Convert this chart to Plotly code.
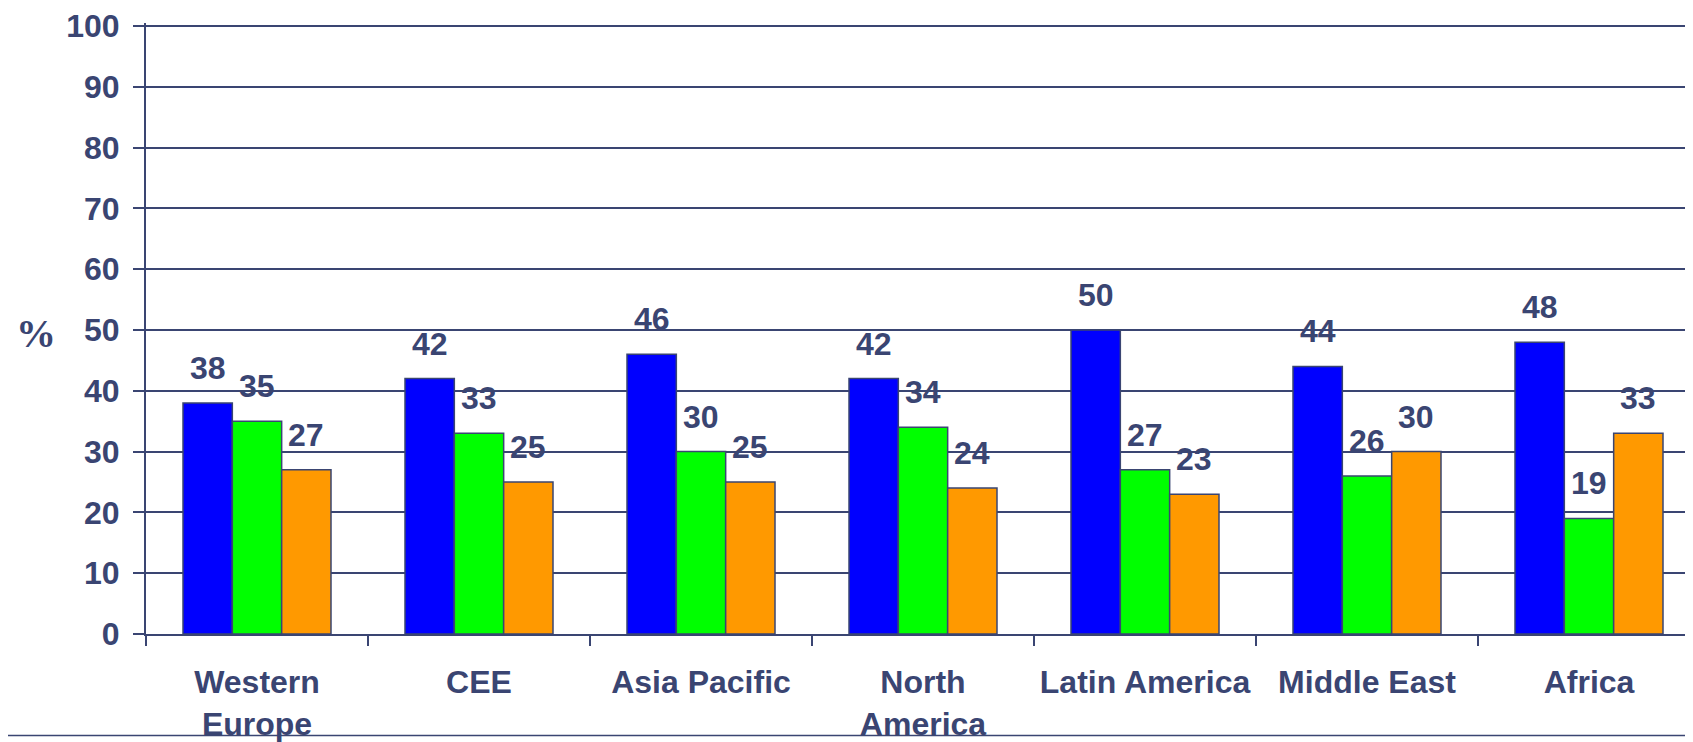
import plotly.graph_objects as go

categories = ["Western<br>Europe", "CEE", "Asia Pacific", "North<br>America",
              "Latin America", "Middle East", "Africa"]
series_blue = [38, 42, 46, 42, 50, 44, 48]
series_green = [35, 33, 30, 34, 27, 26, 19]
series_orange = [27, 25, 25, 24, 23, 30, 33]
y_ticks = [0, 10, 20, 30, 40, 50, 60, 70, 80, 90, 100]

NAVY = "#3a4572"
colors = ["#0000ff", "#00ff00", "#ff9900"]
series = [series_blue, series_green, series_orange]

W, H = 1685, 734
L, T, B, R = 138, 10, 104, 0
PW, PH = W - L - R, H - T - B
UNIT = 6.17  # px per y unit
y_top = PH / UNIT

fig = go.Figure()
for vals, col in zip(series, colors):
    fig.add_trace(go.Bar(
        x=categories, y=vals,
        marker=dict(color=col, line=dict(color=NAVY, width=1.5)),
        showlegend=False,
    ))

# data labels
offsets = [-1, 0, 1]
bar_w = (1 - 1/3) / 3
for vals, off in zip(series, offsets):
    for i, v in enumerate(vals):
        fig.add_annotation(
            x=i + off * bar_w, y=v, xref="x", yref="y",
            text=f"<b>{v}</b>", showarrow=False,
            yanchor="middle", yshift=35,
            font=dict(family="Liberation Sans, Arial", size=32, color=NAVY),
        )

fig.add_annotation(
    x=(28 - L) / PW, y=(T + PH - 325) / PH, xref="paper", yref="paper",
    text="<b>%</b>", showarrow=False, xanchor="center", yanchor="middle",
    font=dict(family="Liberation Serif, Times New Roman", size=40, color=NAVY),
)

yb = (T + PH - 733) / PH
fig.add_shape(type="line", xref="paper", yref="paper",
              x0=-L / PW, x1=1, y0=yb, y1=yb,
              line=dict(color=NAVY, width=1.5))

fig.update_layout(
    width=W, height=H,
    margin=dict(l=L, r=R, t=T, b=B),
    plot_bgcolor="white", paper_bgcolor="white",
    barmode="group", bargap=1/3, bargroupgap=0,
    font=dict(family="Liberation Sans, Arial", color=NAVY),
)
fig.update_xaxes(
    type="category", range=[-0.5, -0.5 + PW / 222],
    tickson="boundaries", ticks="outside", ticklen=10, tickwidth=2, tickcolor=NAVY,
    showline=True, linecolor=NAVY, linewidth=2,
    tickfont=dict(family="Liberation Sans, Arial", size=32, color=NAVY, weight="bold"),
    ticklabelstandoff=19, showgrid=False,
)
fig.update_yaxes(
    range=[0, y_top], tickvals=y_ticks,
    ticks="outside", ticklen=11, tickwidth=2, tickcolor=NAVY,
    showline=True, linecolor=NAVY, linewidth=2,
    showgrid=True, gridcolor=NAVY, gridwidth=2, zeroline=False,
    tickfont=dict(family="Liberation Sans, Arial", size=32, color=NAVY, weight="bold"),
    ticklabelstandoff=7, ticklabeloverflow="allow",
)

fig.write_html("out.html")
